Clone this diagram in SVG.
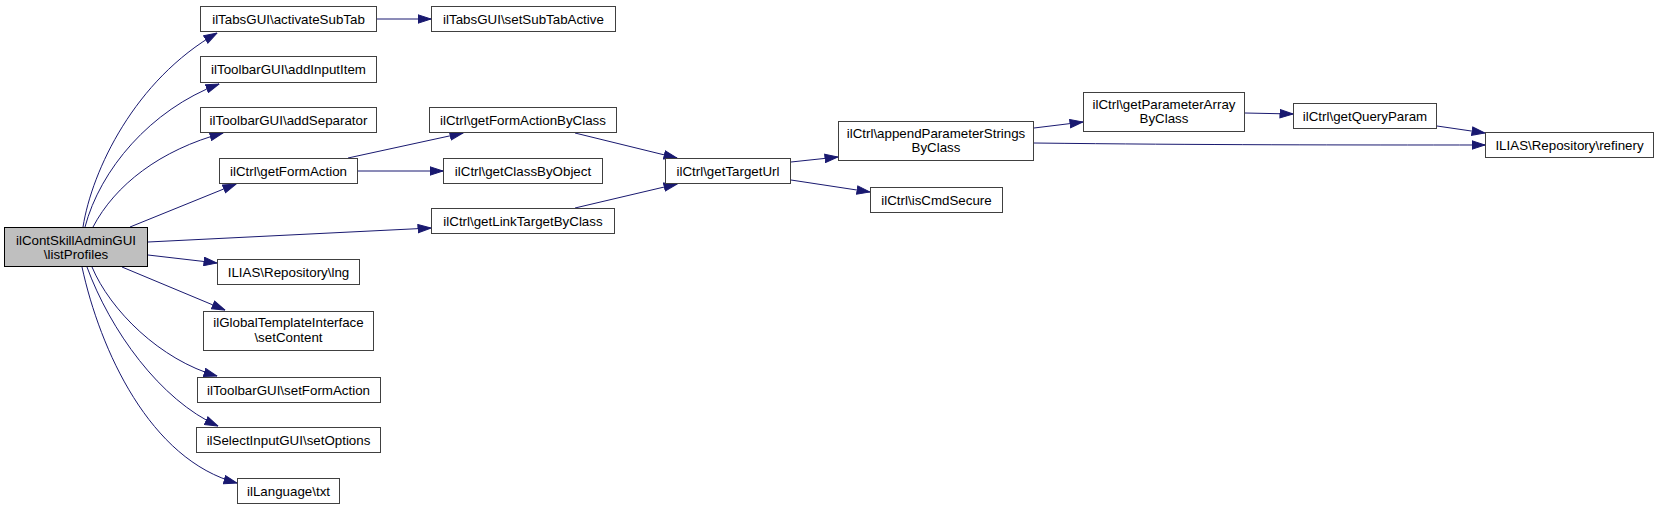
<svg xmlns="http://www.w3.org/2000/svg" width="1660" height="509" viewBox="0 0 1660 509">
<style>
.n rect{fill:#fff;stroke:#404040;stroke-width:1}
.n.h rect{fill:#bfbfbf;stroke:#000}
.n text{font-family:"Liberation Sans",Arial,sans-serif;font-size:13.33px;fill:#000;text-anchor:middle}
.e path{fill:none;stroke:#191970;stroke-width:1}
</style>
<defs>
<marker id="a" markerUnits="userSpaceOnUse" markerWidth="14" markerHeight="10" viewBox="0 0 14 10" refX="13.5" refY="5" orient="auto">
<path d="M0.5,0.8 L13.5,5 L0.5,9.2 z" fill="#191970" stroke="#191970"/>
</marker>
</defs>
<rect width="1660" height="509" fill="#fff"/>
<g class="e">
<path marker-end="url(#a)" d="M83,227 C92,170 135,80 217,33"/>
<path marker-end="url(#a)" d="M85,227 C100,170 150,110 219,84"/>
<path marker-end="url(#a)" d="M93,227 C115,185 160,150 223,133"/>
<path marker-end="url(#a)" d="M130,227 L236,184"/>
<path marker-end="url(#a)" d="M148,242 L431,228"/>
<path marker-end="url(#a)" d="M148,255 L217,263"/>
<path marker-end="url(#a)" d="M122,267 L225,310"/>
<path marker-end="url(#a)" d="M92,267 C110,310 160,360 217,376"/>
<path marker-end="url(#a)" d="M87,267 C110,330 160,400 218,426"/>
<path marker-end="url(#a)" d="M82,267 C100,350 150,460 237,483"/>
<path marker-end="url(#a)" d="M377,19 L431,19"/>
<path marker-end="url(#a)" d="M348,158 L463,133"/>
<path marker-end="url(#a)" d="M358,171 L443,171"/>
<path marker-end="url(#a)" d="M575,133 L677,158"/>
<path marker-end="url(#a)" d="M575,208 L677,184"/>
<path marker-end="url(#a)" d="M791,162 L838,157"/>
<path marker-end="url(#a)" d="M791,180 L870,192"/>
<path marker-end="url(#a)" d="M1034,128 L1083,122"/>
<path marker-end="url(#a)" d="M1034,143 C1200,145 1350,145 1485,145"/>
<path marker-end="url(#a)" d="M1245,113 L1293,114"/>
<path marker-end="url(#a)" d="M1437,126 L1485,133"/>
</g>
<g id="listProfiles" class="n h"><rect x="4.5" y="227.5" width="143" height="39"/><text x="76" y="244.5">ilContSkillAdminGUI</text><text x="76" y="258.5">\listProfiles</text></g>
<g id="activateSubTab" class="n"><rect x="200.5" y="6.5" width="176" height="25"/><text x="288.5" y="23.5">ilTabsGUI\activateSubTab</text></g>
<g id="addInputItem" class="n"><rect x="200.5" y="56.5" width="176" height="26"/><text x="288.5" y="74">ilToolbarGUI\addInputItem</text></g>
<g id="addSeparator" class="n"><rect x="200.5" y="107.5" width="176" height="25"/><text x="288.5" y="124.5">ilToolbarGUI\addSeparator</text></g>
<g id="getFormAction" class="n"><rect x="219.5" y="158.5" width="138" height="25"/><text x="288.5" y="175.5">ilCtrl\getFormAction</text></g>
<g id="lng" class="n"><rect x="217.5" y="259.5" width="142" height="25"/><text x="288.5" y="276.5">ILIAS\Repository\lng</text></g>
<g id="setContent" class="n"><rect x="203.5" y="311.5" width="170" height="39"/><text x="288.5" y="327">ilGlobalTemplateInterface</text><text x="288.5" y="341.5">\setContent</text></g>
<g id="setFormAction" class="n"><rect x="197.5" y="377.5" width="183" height="25"/><text x="288.5" y="394.5">ilToolbarGUI\setFormAction</text></g>
<g id="setOptions" class="n"><rect x="196.5" y="427.5" width="184" height="25"/><text x="288.5" y="444.5">ilSelectInputGUI\setOptions</text></g>
<g id="txt" class="n"><rect x="237.5" y="478.5" width="102" height="25"/><text x="288.5" y="495.5">ilLanguage\txt</text></g>
<g id="setSubTabActive" class="n"><rect x="431.5" y="6.5" width="184" height="25"/><text x="523.5" y="23.5">ilTabsGUI\setSubTabActive</text></g>
<g id="getFormActionByClass" class="n"><rect x="429.5" y="107.5" width="187" height="25"/><text x="523" y="124.5">ilCtrl\getFormActionByClass</text></g>
<g id="getClassByObject" class="n"><rect x="443.5" y="158.5" width="159" height="25"/><text x="523" y="175.5">ilCtrl\getClassByObject</text></g>
<g id="getLinkTargetByClass" class="n"><rect x="431.5" y="208.5" width="183" height="25"/><text x="523" y="225.5">ilCtrl\getLinkTargetByClass</text></g>
<g id="getTargetUrl" class="n"><rect x="665.5" y="158.5" width="125" height="25"/><text x="728" y="175.5">ilCtrl\getTargetUrl</text></g>
<g id="appendParameterStringsByClass" class="n"><rect x="838.5" y="121.5" width="195" height="39"/><text x="936" y="137.5">ilCtrl\appendParameterStrings</text><text x="936" y="151.5">ByClass</text></g>
<g id="isCmdSecure" class="n"><rect x="870.5" y="187.5" width="132" height="25"/><text x="936.5" y="204.5">ilCtrl\isCmdSecure</text></g>
<g id="getParameterArrayByClass" class="n"><rect x="1083.5" y="92.5" width="161" height="39"/><text x="1164" y="108.5">ilCtrl\getParameterArray</text><text x="1164" y="122.5">ByClass</text></g>
<g id="getQueryParam" class="n"><rect x="1293.5" y="103.5" width="143" height="25"/><text x="1365" y="120.5">ilCtrl\getQueryParam</text></g>
<g id="refinery" class="n"><rect x="1485.5" y="132.5" width="168" height="25"/><text x="1569.5" y="149.5">ILIAS\Repository\refinery</text></g>
</svg>
